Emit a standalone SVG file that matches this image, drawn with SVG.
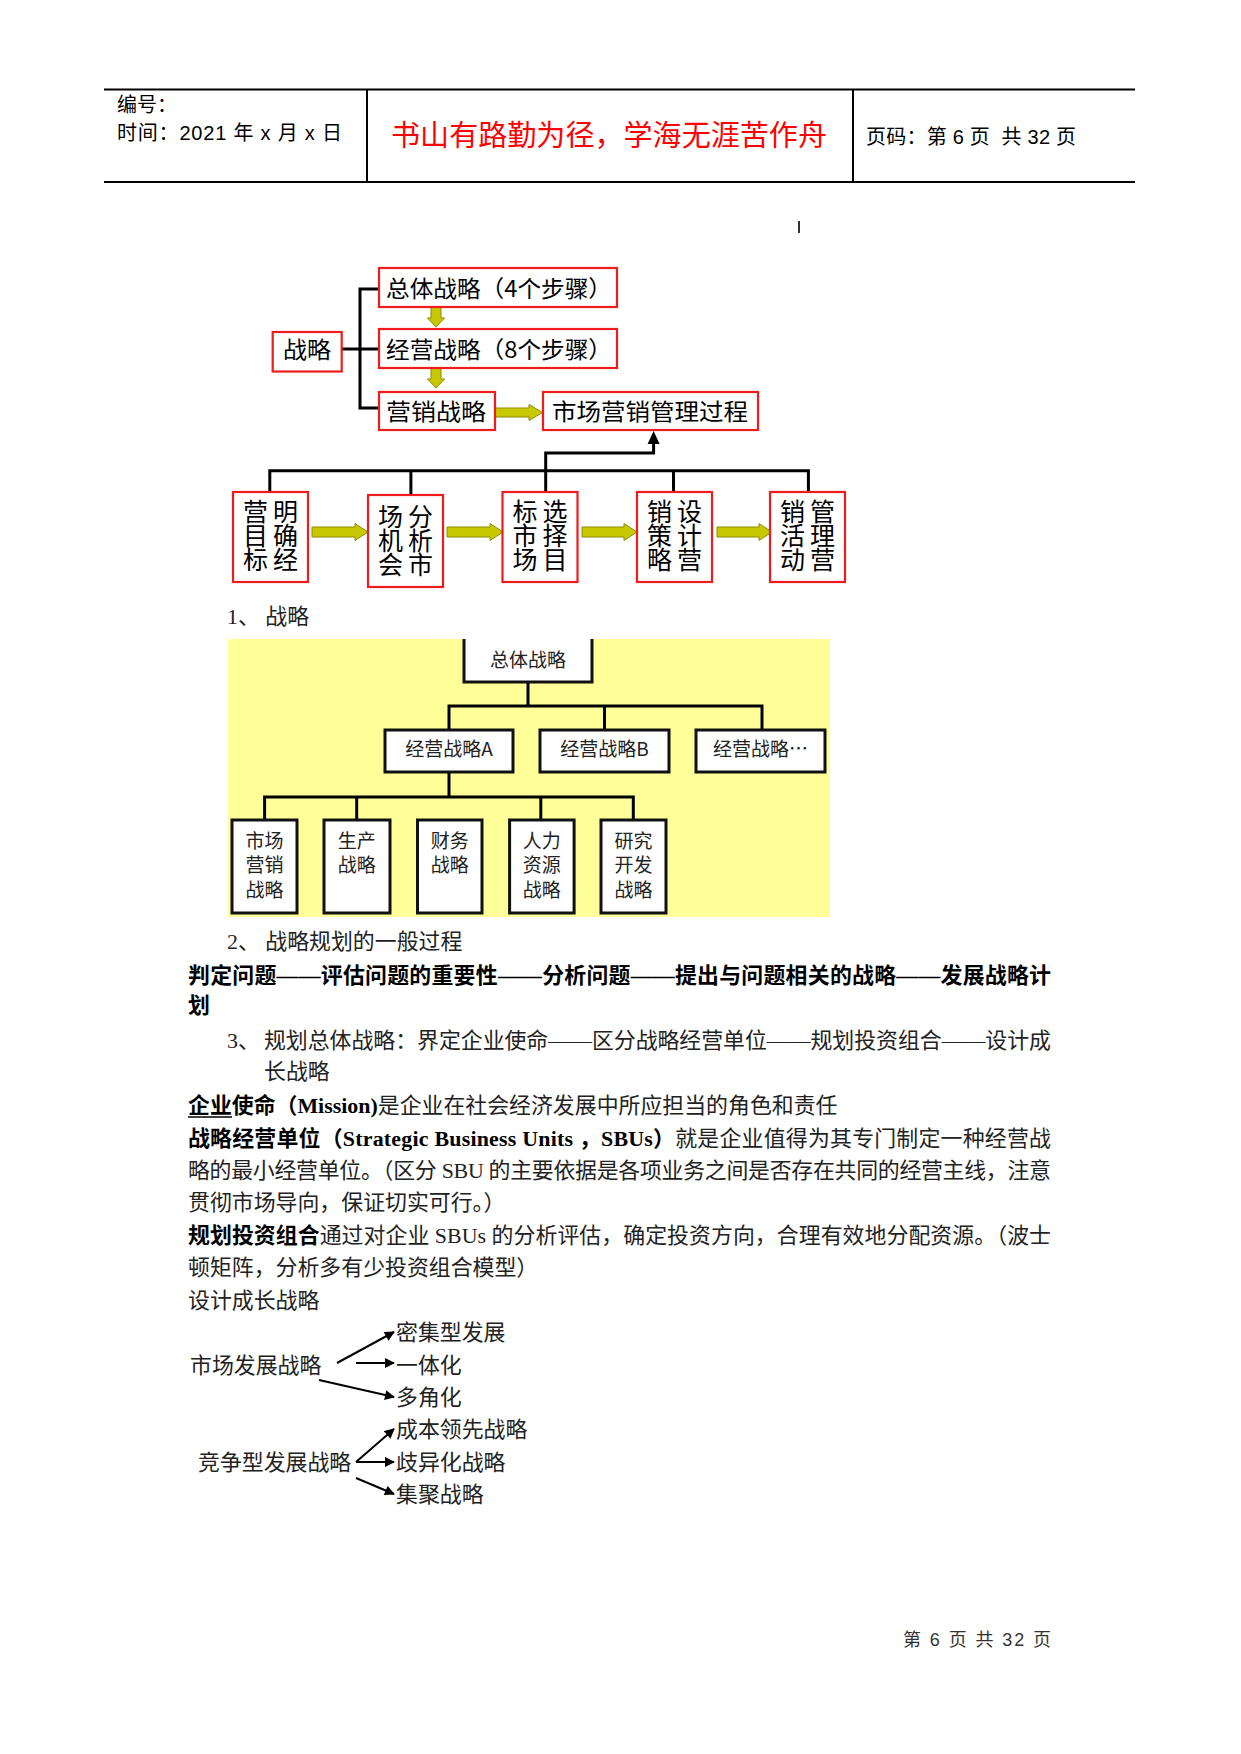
<svg xmlns="http://www.w3.org/2000/svg" width="1241" height="1754" viewBox="0 0 1241 1754">
<defs>
<style>
.hd{font-family:"Liberation Sans","Noto Sans CJK SC",sans-serif;font-size:20px;fill:#000}
.title{font-family:"Noto Sans CJK SC",sans-serif;font-size:29px;fill:#ff0000}
.d1{font-family:"Noto Sans CJK SC",sans-serif;font-size:23px;fill:#000}
.d1v{font-family:"Noto Sans CJK SC",sans-serif;font-size:25px;fill:#000;writing-mode:vertical-rl;letter-spacing:-1px}
.rbox{fill:#fff;stroke:#ee1c1c;stroke-width:2.2}
.ya{fill:#c8c800;stroke:#8c8c00;stroke-width:1}
.blk{fill:none;stroke:#000;stroke-width:3}
.bbox{fill:#fff;stroke:#111;stroke-width:3}
.d2{font-family:"Noto Sans CJK SC",sans-serif;font-size:19px;fill:#222;text-anchor:middle}
.bd{font-family:"Liberation Serif","Noto Sans CJK SC",serif;font-size:21.9px;fill:#222}
.b{font-weight:bold;fill:#000}
.ga{fill:none;stroke:#000;stroke-width:2;marker-end:url(#ah)}
.ft{font-family:"Liberation Sans","Noto Sans CJK SC",sans-serif;font-size:18px;fill:#333}
</style>
<marker id="ah" viewBox="0 0 10 10" refX="9" refY="5" markerUnits="userSpaceOnUse" markerWidth="11" markerHeight="10" orient="auto">
<path d="M0,0 L10,5 L0,10 z" fill="#000"/>
</marker>
</defs>
<rect x="0" y="0" width="1241" height="1754" fill="#fff"/>

<g id="header">
<line x1="104" y1="89.5" x2="1135" y2="89.5" stroke="#000" stroke-width="2"/>
<line x1="104" y1="182" x2="1135" y2="182" stroke="#000" stroke-width="2"/>
<line x1="367" y1="89.5" x2="367" y2="182" stroke="#000" stroke-width="2"/>
<line x1="853" y1="89.5" x2="853" y2="182" stroke="#000" stroke-width="2"/>
<text class="hd" x="117" y="112">编号：</text>
<text class="hd" x="117" y="140" textLength="225" lengthAdjust="spacing">时间：2021 年 x 月 x 日</text>
<text class="title" x="391" y="146" textLength="436" lengthAdjust="spacingAndGlyphs">书山有路勤为径，学海无涯苦作舟</text>
<text class="hd" x="866" y="144" textLength="210" lengthAdjust="spacing">页码：第 6 页 &#160;共 32 页</text>
</g>

<line id="tick" x1="799" y1="221" x2="799" y2="233" stroke="#333" stroke-width="2"/>

<g id="diagram1-connectors">
<path class="blk" d="M341.6,349 H379 M379,289 H360 V408 H379"/>
<path class="blk" d="M269.8,492 V470.7 H808.4 V492 M410.9,470.7 V495 M545.7,492 V453 H653.6 V443 M673.5,470.7 V492"/>
<path d="M653.6,431 L647.6,444 L659.6,444 z" fill="#000"/>
<path class="ya" d="M431,307 H441 V318 H444.5 L436,327 L427.5,318 H431 z"/>
<path class="ya" d="M431,368 H441 V379 H444.5 L436,388 L427.5,379 H431 z"/>
<path class="ya" d="M495,408 H529 V404.5 L542.5,412.5 L529,420.5 V417 H495 z"/>
<path class="ya" d="M312,527 H355 V523.5 L368,532 L355,540.5 V537 H312 z"/>
<path class="ya" d="M447,527 H490 V523.5 L503,532 L490,540.5 V537 H447 z"/>
<path class="ya" d="M582,527 H624 V523.5 L637,532 L624,540.5 V537 H582 z"/>
<path class="ya" d="M717,527 H759 V523.5 L772,532 L759,540.5 V537 H717 z"/>
</g>

<g id="n-zhanlue"><rect class="rbox" x="272.7" y="332" width="69" height="39.5"/><text class="d1" x="283" y="358" textLength="48" lengthAdjust="spacingAndGlyphs">战略</text></g>
<g id="n-zongti"><rect class="rbox" x="379" y="268" width="238" height="39"/><text class="d1" x="386" y="297" textLength="226" lengthAdjust="spacingAndGlyphs">总体战略（4个步骤）</text></g>
<g id="n-jingying"><rect class="rbox" x="379" y="329" width="238" height="39"/><text class="d1" x="386" y="358" textLength="226" lengthAdjust="spacingAndGlyphs">经营战略（8个步骤）</text></g>
<g id="n-yingxiao"><rect class="rbox" x="379" y="392" width="116" height="38"/><text class="d1" x="386" y="420" textLength="100" lengthAdjust="spacingAndGlyphs">营销战略</text></g>
<g id="n-guocheng"><rect class="rbox" x="543" y="392" width="215" height="38"/><text class="d1" x="552" y="420" textLength="196" lengthAdjust="spacingAndGlyphs">市场营销管理过程</text></g>

<g id="n-b1"><rect class="rbox" x="233" y="492" width="75" height="90"/>
<text class="d1v" x="285.5" y="499">明确经</text><text class="d1v" x="255.5" y="499">营目标</text></g>
<g id="n-b2"><rect class="rbox" x="368" y="495" width="75" height="92"/>
<text class="d1v" x="420.5" y="504">分析市</text><text class="d1v" x="390.5" y="504">场机会</text></g>
<g id="n-b3"><rect class="rbox" x="502.5" y="492" width="75" height="90"/>
<text class="d1v" x="555" y="499">选择目</text><text class="d1v" x="525" y="499">标市场</text></g>
<g id="n-b4"><rect class="rbox" x="637" y="492" width="75" height="90"/>
<text class="d1v" x="689.5" y="499">设计营</text><text class="d1v" x="659.5" y="499">销策略</text></g>
<g id="n-b5"><rect class="rbox" x="770" y="492" width="75" height="90"/>
<text class="d1v" x="822.5" y="499">管理营</text><text class="d1v" x="792.5" y="499">销活动</text></g>

<text class="bd" x="227" y="624">1、 战略</text>

<rect id="bg2" x="228" y="639" width="602" height="278" fill="#ffff99"/>
<g id="diagram2-connectors">
<path class="blk" d="M528,682 V706 M449,730 V706 H762 V730 M604.5,706 V730"/>
<path class="blk" d="M449,772 V797 M264.6,820 V797 H633.3 V820 M356.7,797 V820 M540.8,797 V820"/>
</g>
<g id="m-zongti"><path class="bbox" d="M464,639 V682 H592 V639"/><text class="d2" x="528" y="667">总体战略</text></g>
<g id="m-a"><rect class="bbox" x="385" y="730" width="128" height="42"/><text class="d2" x="449" y="756">经营战略A</text></g>
<g id="m-b"><rect class="bbox" x="540" y="730" width="129" height="42"/><text class="d2" x="604.5" y="756">经营战略B</text></g>
<g id="m-c"><rect class="bbox" x="696" y="730" width="129" height="42"/><text class="d2" x="760.5" y="756">经营战略…</text></g>
<g id="m-1"><rect class="bbox" x="232" y="820" width="65" height="93"/><text class="d2" x="264.6" y="848">市场</text><text class="d2" x="264.6" y="872">营销</text><text class="d2" x="264.6" y="897">战略</text></g>
<g id="m-2"><rect class="bbox" x="324" y="820" width="66" height="93"/><text class="d2" x="356.7" y="848">生产</text><text class="d2" x="356.7" y="872">战略</text></g>
<g id="m-3"><rect class="bbox" x="417.5" y="820" width="64.5" height="93"/><text class="d2" x="449.7" y="848">财务</text><text class="d2" x="449.7" y="872">战略</text></g>
<g id="m-4"><rect class="bbox" x="509.6" y="820" width="64.5" height="93"/><text class="d2" x="541.8" y="848">人力</text><text class="d2" x="541.8" y="872">资源</text><text class="d2" x="541.8" y="897">战略</text></g>
<g id="m-5"><rect class="bbox" x="601" y="820" width="65" height="93"/><text class="d2" x="633.5" y="848">研究</text><text class="d2" x="633.5" y="872">开发</text><text class="d2" x="633.5" y="897">战略</text></g>

<g id="body">
<text class="bd" x="227" y="949">2、 战略规划的一般过程</text>
<text class="bd b" x="188" y="983" textLength="863" lengthAdjust="spacing">判定问题——评估问题的重要性——分析问题——提出与问题相关的战略——发展战略计</text>
<text class="bd b" x="188" y="1013">划</text>
<text class="bd" x="227" y="1048">3、</text><text class="bd" x="264" y="1048" textLength="787" lengthAdjust="spacing">规划总体战略：界定企业使命——区分战略经营单位——规划投资组合——设计成</text>
<text class="bd" x="264" y="1079">长战略</text>
<text class="bd" x="188" y="1113"><tspan class="b">企业使命（Mission)</tspan>是企业在社会经济发展中所应担当的角色和责任</text>
<line x1="188" y1="1117" x2="232" y2="1117" stroke="#000" stroke-width="1.5"/>
<text class="bd" x="188" y="1146" textLength="863" lengthAdjust="spacing"><tspan class="b">战略经营单位（Strategic Business Units ，SBUs）</tspan>就是企业值得为其专门制定一种经营战</text>
<text class="bd" x="188" y="1178" textLength="863" lengthAdjust="spacing">略的最小经营单位。（区分 SBU 的主要依据是各项业务之间是否存在共同的经营主线，注意</text>
<text class="bd" x="188" y="1210">贯彻市场导向，保证切实可行。）</text>
<text class="bd" x="188" y="1243" textLength="863" lengthAdjust="spacing"><tspan class="b">规划投资组合</tspan>通过对企业 SBUs 的分析评估，确定投资方向，合理有效地分配资源。（波士</text>
<text class="bd" x="188" y="1275">顿矩阵，分析多有少投资组合模型）</text>
<text class="bd" x="188" y="1308">设计成长战略</text>
</g>

<g id="growth-nodes">
<text class="bd" x="190" y="1373">市场发展战略</text>
<text class="bd" x="396" y="1340">密集型发展</text>
<text class="bd" x="396" y="1373">一体化</text>
<text class="bd" x="396" y="1405">多角化</text>
<text class="bd" x="198" y="1470">竞争型发展战略</text>
<text class="bd" x="396" y="1437">成本领先战略</text>
<text class="bd" x="396" y="1470">歧异化战略</text>
<text class="bd" x="396" y="1502">集聚战略</text>
</g>
<g id="growth-connectors">
<line class="ga" x1="337" y1="1363" x2="394" y2="1332"/>
<line class="ga" x1="356" y1="1363" x2="394" y2="1363"/>
<line class="ga" x1="319" y1="1380" x2="394" y2="1397"/>
<line class="ga" x1="356" y1="1462" x2="394" y2="1429"/>
<line class="ga" x1="356" y1="1462" x2="394" y2="1462"/>
<line class="ga" x1="356" y1="1478" x2="394" y2="1494"/>
</g>

<text class="ft" x="903" y="1646" textLength="148" lengthAdjust="spacing">第 6 页 共 32 页</text>
</svg>
